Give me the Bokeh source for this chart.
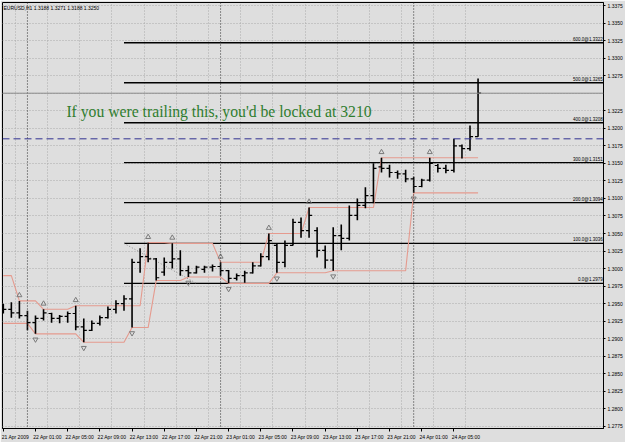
from bokeh.plotting import figure
from bokeh.models import (Range1d, LinearAxis, FixedTicker, PrintfTickFormatter, Span,
                          Label, ColumnDataSource, Grid)
from bokeh.transform import dodge
from bokeh.core.properties import value
from bokeh.embed import file_html
from bokeh.resources import INLINE

# ---------------- data (EURUSD H1) ----------------
bar_index = list(range(-3, 57))   # hours from 22 Apr 00:00
opens = [1.2945, 1.2942, 1.2937, 1.2933, 1.2923, 1.2929, 1.2936, 1.2929, 1.2932, 1.2936,
         1.2917, 1.2912, 1.2922, 1.2930, 1.2942, 1.2950, 1.2957, 1.3009, 1.3017, 1.3014,
         1.2995, 1.3009, 1.3014, 1.2997, 1.2994, 1.2999, 1.3002, 1.3003, 1.2997, 1.2986,
         1.2990, 1.2994, 1.3004, 1.3017, 1.3033, 1.3009, 1.3033, 1.3066, 1.3054, 1.3054,
         1.3026, 1.3012, 1.3047, 1.3043, 1.3076, 1.3090, 1.3104, 1.3145, 1.3143, 1.3137,
         1.3135, 1.3128, 1.3117, 1.3126, 1.3147, 1.3143, 1.3140, 1.3175, 1.3171, 1.3188]
highs = [1.2950, 1.2952, 1.2954, 1.2940, 1.2933, 1.2942, 1.2937, 1.2934, 1.2939, 1.2947,
         1.2929, 1.2926, 1.2933, 1.2946, 1.2955, 1.2962, 1.3014, 1.3029, 1.3037, 1.3015,
         1.3016, 1.3036, 1.3026, 1.3004, 1.3004, 1.3004, 1.3006, 1.3009, 1.2998, 1.2993,
         1.2997, 1.3009, 1.3022, 1.3050, 1.3035, 1.3040, 1.3071, 1.3073, 1.3087, 1.3059,
         1.3033, 1.3059, 1.3063, 1.3090, 1.3100, 1.3116, 1.3150, 1.3158, 1.3148, 1.3140,
         1.3141, 1.3131, 1.3128, 1.3158, 1.3149, 1.3148, 1.3185, 1.3177, 1.3204, 1.3271]
lows = [1.2936, 1.2930, 1.2929, 1.2912, 1.2907, 1.2926, 1.2923, 1.2922, 1.2923, 1.2912,
        1.2895, 1.2911, 1.2919, 1.2929, 1.2936, 1.2940, 1.2916, 1.2994, 1.3009, 1.2983,
        1.2990, 1.3000, 1.2990, 1.2988, 1.2993, 1.2994, 1.2996, 1.2990, 1.2979, 1.2983,
        1.2980, 1.2993, 1.3003, 1.3012, 1.2994, 1.3002, 1.3033, 1.3044, 1.3044, 1.3016,
        1.3000, 1.2997, 1.3026, 1.3040, 1.3069, 1.3086, 1.3093, 1.3137, 1.3130, 1.3128,
        1.3123, 1.3108, 1.3116, 1.3124, 1.3137, 1.3136, 1.3137, 1.3157, 1.3168, 1.3188]
closes = [1.2942, 1.2937, 1.2933, 1.2923, 1.2929, 1.2937, 1.2929, 1.2932, 1.2936, 1.2917,
          1.2912, 1.2922, 1.2930, 1.2942, 1.2950, 1.2957, 1.3009, 1.3017, 1.3014, 1.2987,
          1.3009, 1.3014, 1.2997, 1.2994, 1.3002, 1.3002, 1.3003, 1.2997, 1.2986, 1.2990,
          1.2994, 1.3004, 1.3017, 1.3040, 1.3009, 1.3033, 1.3066, 1.3054, 1.3076, 1.3026,
          1.3012, 1.3047, 1.3043, 1.3076, 1.3090, 1.3104, 1.3143, 1.3143, 1.3137, 1.3135,
          1.3128, 1.3117, 1.3126, 1.3150, 1.3143, 1.3140, 1.3175, 1.3171, 1.3188, 1.3250]

# fractal channel (trailing) lines, one value per bar
upper_line = [1.2990, 1.2990, 1.2954, 1.2954, 1.2954, 1.2942, 1.2942, 1.2942, 1.2942, 1.2947,
              1.2947, 1.2947, 1.2947, 1.2947, 1.2947, 1.2947, 1.2947, 1.2947, 1.3037, 1.3037,
              1.3037, 1.3036, 1.3036, 1.3036, 1.3036, 1.3036, 1.3036, 1.3009, 1.3009, 1.3009,
              1.3009, 1.3009, 1.3009, 1.3050, 1.3050, 1.3050, 1.3050, 1.3050, 1.3087, 1.3087,
              1.3087, 1.3087, 1.3087, 1.3087, 1.3087, 1.3087, 1.3087, 1.3158, 1.3158, 1.3158,
              1.3158, 1.3158, 1.3158, 1.3158, 1.3158, 1.3158, 1.3158, 1.3158, 1.3158, 1.3158]
lower_line = [1.2922, 1.2922, 1.2922, 1.2922, 1.2907, 1.2907, 1.2907, 1.2907, 1.2907, 1.2907,
              1.2895, 1.2895, 1.2895, 1.2895, 1.2895, 1.2895, 1.2916, 1.2916, 1.2916, 1.2983,
              1.2983, 1.2983, 1.2983, 1.2988, 1.2988, 1.2988, 1.2988, 1.2988, 1.2979, 1.2979,
              1.2979, 1.2979, 1.2979, 1.2979, 1.2994, 1.2994, 1.2994, 1.2994, 1.2994, 1.2994,
              1.2994, 1.2997, 1.2997, 1.2997, 1.2997, 1.2997, 1.2997, 1.2997, 1.2997, 1.2997,
              1.2997, 1.3108, 1.3108, 1.3108, 1.3108, 1.3108, 1.3108, 1.3108, 1.3108, 1.3108]

up_fractals = [-1, 2, 6, 15, 18, 24, 30, 35, 44, 50]
down_fractals = [1, 7, 13, 20, 25, 31, 38, 48]

# Fibonacci expansion
fib_start = [12, 1.3036]
fib_end = [21, 1.2979]
fib_names = ["0.0", "100.0", "200.0", "300.0", "400.0", "500.0", "600.0"]
fib_prices = [1.2979, 1.3036, 1.3094, 1.3151, 1.3208, 1.3265, 1.3322]

bid_price = 1.3250
blue_price = 1.3185
day_separators = [0, 24, 48]

price_ticks = [1.2775, 1.2800, 1.2825, 1.2850, 1.2875, 1.2900, 1.2925, 1.2950, 1.2975,
               1.3000, 1.3025, 1.3050, 1.3075, 1.3100, 1.3125, 1.3150, 1.3175, 1.3200,
               1.3225, 1.3275, 1.3300, 1.3325, 1.3350, 1.3375]
grid_prices = price_ticks + [1.3250]
time_tick_bars = [-3, 1, 5, 9, 13, 17, 21, 25, 29, 33, 37, 41, 45, 49, 53]
time_labels = ["21 Apr 2009", "22 Apr 01:00", "22 Apr 05:00", "22 Apr 09:00", "22 Apr 13:00",
               "22 Apr 17:00", "22 Apr 21:00", "23 Apr 01:00", "23 Apr 05:00", "23 Apr 09:00",
               "23 Apr 13:00", "23 Apr 17:00", "23 Apr 21:00", "24 Apr 01:00", "24 Apr 05:00"]

title_text = "EURUSD,H1  1.3188 1.3271 1.3188 1.3250"
note_text = "If you were trailing this, you'd be locked at 3210"

# ---------------- layout ----------------
BG = "#DEDEDE"
PX_PER_BAR = 8.06
FRAME_W, FRAME_H = 602, 426
X0 = -3.1
X1 = X0 + FRAME_W / PX_PER_BAR
Y0, Y1 = 1.27721, 1.33793
PX_PER_PRICE = FRAME_H / (Y1 - Y0)

def px_x(px):  # canvas px -> bar index
    return X0 + (px - 2) / PX_PER_BAR

def px_y(py):  # canvas px -> price
    return Y1 - (py - 2) / PX_PER_PRICE

p = figure(width=625, height=442, x_range=Range1d(X0, X1), y_range=Range1d(Y0, Y1),
           output_backend="svg", toolbar_location=None,
           min_border_left=2, min_border_top=2, min_border_right=21, min_border_bottom=14,
           x_axis_location=None, y_axis_location=None)
p.grid.visible = False
p.background_fill_color = BG
p.border_fill_color = BG
p.outline_line_color = "black"
p.outline_line_width = 1

# axes
label_offset = 1.5
xticker = FixedTicker(ticks=[t + label_offset for t in time_tick_bars], minor_ticks=time_tick_bars)
xaxis = LinearAxis(ticker=xticker)
xaxis.major_label_overrides = {t + label_offset: s for t, s in zip(time_tick_bars, time_labels)}
xaxis.major_tick_out = 0
xaxis.major_tick_in = 0
xaxis.minor_tick_out = 3
xaxis.minor_tick_in = 0
xaxis.minor_tick_line_color = "black"
xaxis.major_label_standoff = 2
xaxis.major_label_text_font = "Liberation Sans"
xaxis.major_label_text_font_size = "5px"
xaxis.major_label_text_color = "black"
xaxis.axis_line_color = "black"
p.add_layout(xaxis, "below")

yaxis = LinearAxis(ticker=FixedTicker(ticks=price_ticks, minor_ticks=[]),
                   formatter=PrintfTickFormatter(format="%.4f"))
yaxis.major_tick_out = 2
yaxis.major_tick_in = 0
yaxis.major_tick_line_color = "black"
yaxis.major_label_standoff = 2
yaxis.major_label_text_font = "Liberation Sans"
yaxis.major_label_text_font_size = "5px"
yaxis.major_label_text_color = "black"
yaxis.axis_line_color = "black"
p.add_layout(yaxis, "right")

# grids
p.add_layout(Grid(dimension=0, ticker=xticker, grid_line_color="#ABABAB",
                  grid_line_dash="1 2", grid_line_width=1))
p.add_layout(Grid(dimension=1, ticker=FixedTicker(ticks=grid_prices), grid_line_color="#ABABAB",
                  grid_line_dash="1 2", grid_line_width=1))

for d in day_separators:
    p.add_layout(Span(location=d, dimension="height", line_color="#303030",
                      line_dash="1 2", line_width=1))

# Fibonacci lines and labels
fib_src = ColumnDataSource(dict(y=fib_prices,
                                x0=[fib_start[0]] * len(fib_prices),
                                x1=[X1 + 5] * len(fib_prices),
                                xl=[X1 - 0.1] * len(fib_prices),
                                lab=[f"{n}@{v:.4f}" for n, v in zip(fib_names, fib_prices)]))
p.segment(x0="x0", y0="y", x1="x1", y1="y", source=fib_src, line_color="black", line_width=1.4)
p.text(x="xl", y="y", text="lab", source=fib_src, text_font=value("Liberation Sans"),
       text_font_size="4.5px", text_align="right", text_baseline="bottom",
       text_color="black", y_offset=-1)
p.segment(x0=[fib_start[0]], y0=[fib_start[1]], x1=[fib_end[0]], y1=[fib_end[1]],
          line_color="#8A8A8A", line_dash="1 2", line_width=1)

# bid line and blue dashed line
p.add_layout(Span(location=bid_price, dimension="width", line_color="#8C8C8C", line_width=1))
p.add_layout(Span(location=blue_price, dimension="width", line_color="#303090",
                  line_dash="7 4", line_width=1))

# trailing channel lines
p.line(bar_index, upper_line, line_color="#E59A8E", line_width=1.1)
p.line(bar_index, lower_line, line_color="#E59A8E", line_width=1.1)

# OHLC bars
src = ColumnDataSource(dict(i=bar_index, o=opens, h=highs, l=lows, c=closes))
p.segment(x0="i", y0="l", x1="i", y1="h", source=src, line_color="black", line_width=1.6)
p.segment(x0=dodge("i", -0.38, range=p.x_range), y0="o", x1="i", y1="o", source=src,
          line_color="black", line_width=1.2)
p.segment(x0="i", y0="c", x1=dodge("i", 0.38, range=p.x_range), y1="c", source=src,
          line_color="black", line_width=1.2)

# fractal arrows
up_src = ColumnDataSource(dict(x=up_fractals,
                               y=[highs[bar_index.index(k)] for k in up_fractals]))
dn_src = ColumnDataSource(dict(x=down_fractals,
                               y=[lows[bar_index.index(k)] for k in down_fractals]))
p.scatter(x="x", y=dodge("y", 0.0008, range=p.y_range), source=up_src, marker="triangle",
          size=5, fill_color=None, line_color="#7A7A7A", line_width=1)
p.scatter(x="x", y=dodge("y", -0.0008, range=p.y_range), source=dn_src,
          marker="inverted_triangle", size=5, fill_color=None, line_color="#7A7A7A", line_width=1)

# texts
p.add_layout(Label(x=px_x(3), y=px_y(4), text=title_text, text_font="Liberation Sans",
                   text_font_size="5px", text_color="black", text_baseline="top"))
p.add_layout(Label(x=px_x(66), y=px_y(111), text=note_text, text_font="Liberation Serif",
                   text_font_size="15.7px", text_color="#2E7D2E", text_baseline="middle"))

# price boxes on the right scale
p.add_layout(Label(x=px_x(605), y=bid_price, text=f"{bid_price:.4f}", text_font="Liberation Sans",
                   text_font_size="5px", text_color="white", text_baseline="middle",
                   background_fill_color="black", padding=1))
p.add_layout(Label(x=px_x(605), y=blue_price, text=f"{blue_price:.4f}", text_font="Liberation Sans",
                   text_font_size="5px", text_color="white", text_baseline="middle",
                   background_fill_color="#303090", padding=1))

open("out.html", "w").write(file_html(p, INLINE))
